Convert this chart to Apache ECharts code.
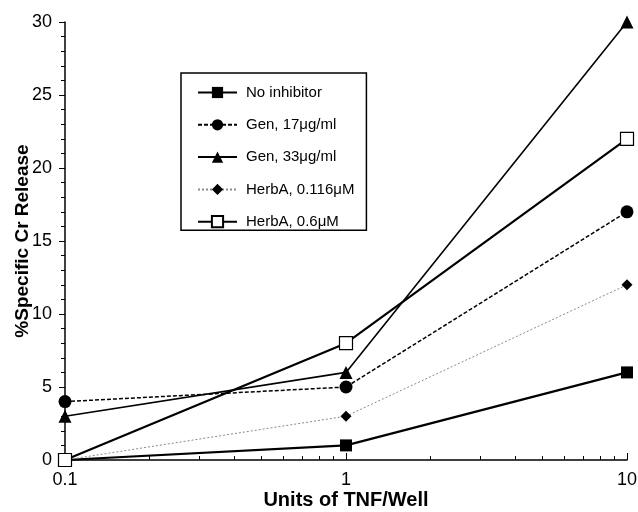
<!DOCTYPE html>
<html><head><meta charset="utf-8">
<script src="https://cdn.jsdelivr.net/npm/echarts@6/dist/echarts.min.js"></script>
<style>html,body{margin:0;padding:0;background:#fff}#c{width:638px;height:512px}</style>
</head><body><div id="c"></div>
<script>
const xValues = [0.1, 1, 10];
const xTickLabels = ['0.1', '1', '10'];
const seriesNames = ['No inhibitor', 'Gen, 17\u03bcg/ml', 'Gen, 33\u03bcg/ml', 'HerbA, 0.116\u03bcM', 'HerbA, 0.6\u03bcM'];
const noInhibitor = [0, 1, 6];
const gen17 = [4, 5, 17];
const gen33 = [3, 6, 30];
const herbA0116 = [0, 3, 12];
const herbA06 = [0, 8, 22];

const font = 'Liberation Sans, Arial, Helvetica, sans-serif';
const pairs = v => xValues.map((x, i) => [x, v[i]]);

const styles = [
  {symbol: 'rect', size: 12, line: {color: '#000', width: 2.2, type: 'solid'}, item: {color: '#000'}},
  {symbol: 'circle', size: 13, line: {color: '#000', width: 1.5, type: [4, 2]}, item: {color: '#000'}},
  {symbol: 'triangle', size: 13, line: {color: '#000', width: 1.6, type: 'solid'}, item: {color: '#000'}},
  {symbol: 'diamond', size: 11, line: {color: '#8a8a8a', width: 1, type: [2, 2]}, item: {color: '#000'}},
  {symbol: 'rect', size: 13, line: {color: '#000', width: 2.2, type: 'solid'}, item: {color: '#fff', borderColor: '#000', borderWidth: 1.2}}
];
const dataSets = [noInhibitor, gen17, gen33, herbA0116, herbA06];

const chart = echarts.init(document.getElementById('c'));
chart.setOption({
  animation: false,
  backgroundColor: '#fff',
  grid: {left: 65, right: 11, top: 22, bottom: 52, containLabel: false, outerBoundsMode: 'none'},
  legend: {
    orient: 'vertical', left: 181, top: 73,
    padding: [12, 12, 1, 16],
    borderColor: '#000', borderWidth: 1.5, backgroundColor: '#fff',
    itemWidth: 39, itemHeight: 14, itemGap: 17.3,
    textStyle: {fontFamily: font, fontSize: 15, color: '#000', padding: [0, 0, 0, 4]},
    data: seriesNames
  },
  xAxis: {
    type: 'log', logBase: 10, min: 0.1, max: 10,
    name: 'Units of TNF/Well', nameLocation: 'middle', nameGap: 30, nameMoveOverlap: false,
    nameTextStyle: {fontFamily: font, fontSize: 20, fontWeight: 'bold', color: '#000'},
    axisLine: {lineStyle: {color: '#000', width: 1.5}},
    axisTick: {inside: true, length: 7, lineStyle: {color: '#000'}},
    minorTick: {show: true, splitNumber: 9, length: 4, lineStyle: {color: '#000'}},
    axisLabel: {fontFamily: font, fontSize: 18, color: '#000', margin: 11,
      formatter: v => { const i = xValues.findIndex(x => Math.abs(x - v) < 1e-9); return i >= 0 ? xTickLabels[i] : ''; }},
    splitLine: {show: false}
  },
  yAxis: {
    type: 'value', min: 0, max: 30, interval: 5,
    name: '%Specific Cr Release', nameLocation: 'middle', nameGap: 33, nameRotate: 90, nameMoveOverlap: false,
    nameTextStyle: {fontFamily: font, fontSize: 19, fontWeight: 'bold', color: '#000'},
    axisLine: {show: true, lineStyle: {color: '#000', width: 1.5}},
    axisTick: {show: true, length: 6, lineStyle: {color: '#000'}},
    minorTick: {show: true, splitNumber: 5, length: 4, lineStyle: {color: '#000'}},
    axisLabel: {fontFamily: font, fontSize: 18, color: '#000', margin: 13},
    splitLine: {show: false}
  },
  series: dataSets.map((d, i) => ({
    name: seriesNames[i], type: 'line', data: pairs(d),
    symbol: styles[i].symbol, symbolSize: styles[i].size,
    lineStyle: styles[i].line, itemStyle: styles[i].item,
    showAllSymbol: true, clip: false, z: 2 + i
  }))
});
</script></body></html>
